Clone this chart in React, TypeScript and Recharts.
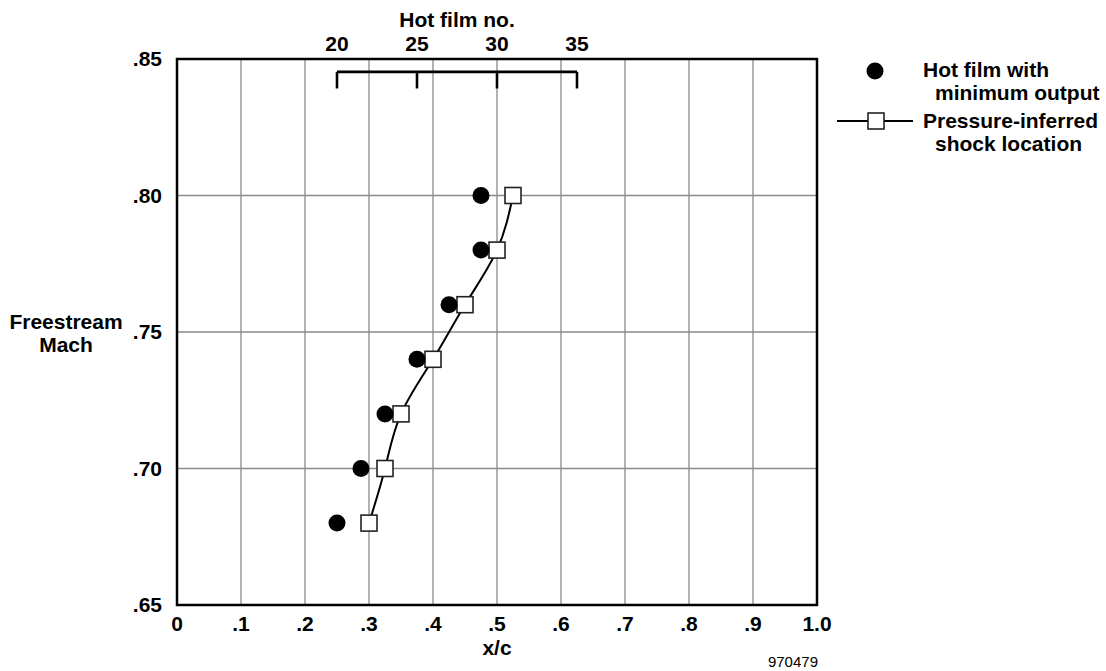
import React from 'react';
import {
  ComposedChart, XAxis, YAxis, CartesianGrid, Scatter, Line, ReferenceArea,
  ReferenceLine, ReferenceDot, Legend, Label,
} from 'recharts';

const machLevels = [0.68, 0.70, 0.72, 0.74, 0.76, 0.78, 0.80];
const hotFilmXc = [0.25, 0.2875, 0.325, 0.375, 0.425, 0.475, 0.475];
const pressureXc = [0.30, 0.325, 0.35, 0.40, 0.45, 0.50, 0.525];

const xTicks = [0, 0.1, 0.2, 0.3, 0.4, 0.5, 0.6, 0.7, 0.8, 0.9, 1.0];
const xTickLabels = ['0', '.1', '.2', '.3', '.4', '.5', '.6', '.7', '.8', '.9', '1.0'];
const yTicks = [0.65, 0.70, 0.75, 0.80, 0.85];
const yTickLabels = ['.65', '.70', '.75', '.80', '.85'];

const filmNumbers = ['20', '25', '30', '35'];
const filmTickXc = [0.25, 0.375, 0.5, 0.625];
const bracketTopMach = 0.8453;
const bracketTickBottomMach = 0.8392;

const hotFilmData = machLevels.map((y, i) => ({ x: hotFilmXc[i], y }));
const pressureData = machLevels.map((y, i) => ({ x: pressureXc[i], y }));

const FONT = '"Liberation Sans", Arial, Helvetica, sans-serif';
const FS = 21;
const tickStyle = { fill: '#000', fontSize: FS, fontWeight: 700, fontFamily: FONT };

const CircleShape = (p: any) => <circle cx={p.cx} cy={p.cy} r={8.5} fill="#000" />;
const SquareShape = (p: any) => (
  <rect x={p.cx - 8} y={p.cy - 8} width={16} height={16} fill="#fff" stroke="#222" strokeWidth={1.6} />
);

const LegendBox = () => (
  <svg width={286} height={130} style={{ overflow: 'visible' }}>
    <g fontFamily={FONT} fontWeight={700} fontSize={FS} fill="#000">
      <circle cx={55} cy={31} r={8.5} fill="#000" />
      <text x={103} y={37}>Hot film with</text>
      <text x={115} y={60}>minimum output</text>
      <line x1={17} x2={93} y1={81} y2={81} stroke="#000" strokeWidth={2} />
      <rect x={48} y={73} width={16} height={16} fill="#fff" stroke="#222" strokeWidth={1.6} />
      <text x={103} y={88}>Pressure-inferred</text>
      <text x={115} y={111}>shock location</text>
    </g>
  </svg>
);

const topText = (value: string, offset: number) => (props: any) => {
  const vb = props.viewBox;
  return (
    <text x={vb.x} y={vb.y - offset} textAnchor="middle" fontFamily={FONT} fontSize={FS} fontWeight={700} fill="#000">
      {value}
    </text>
  );
};

export default function App() {
  const bracketMid = (filmTickXc[0] + filmTickXc[filmTickXc.length - 1]) / 2;
  return (
    <div style={{ position: 'absolute', left: 0, top: 0, width: 1106, height: 671, background: '#fff' }}>
      <ComposedChart width={1106} height={671} margin={{ top: 59, right: 289, bottom: 0, left: 0 }}>
        <CartesianGrid stroke="#8a8a8a" strokeWidth={1.3} horizontalValues={yTicks} verticalValues={xTicks} />
        <XAxis
          dataKey="x"
          type="number"
          domain={[0, 1]}
          ticks={xTicks}
          tickFormatter={(v: number) => xTickLabels[xTicks.findIndex((t) => Math.abs(t - v) < 1e-6)]}
          axisLine={false}
          tickLine={false}
          tickSize={0}
          tickMargin={11}
          height={66}
          tick={tickStyle}
          interval={0}
        >
          <Label
            content={(props: any) => {
              const vb = props.viewBox;
              return (
                <g fontFamily={FONT} fill="#000">
                  <text x={vb.x + vb.width / 2} y={vb.y + 50} textAnchor="middle" fontSize={FS} fontWeight={700}>x/c</text>
                  <text x={vb.x + vb.width + 1} y={vb.y + 62} textAnchor="end" fontSize={15}>970479</text>
                </g>
              );
            }}
          />
        </XAxis>
        <YAxis
          dataKey="y"
          type="number"
          domain={[0.65, 0.85]}
          ticks={yTicks}
          tickFormatter={(v: number) => yTickLabels[yTicks.findIndex((t) => Math.abs(t - v) < 1e-6)]}
          axisLine={false}
          tickLine={false}
          tickSize={0}
          tickMargin={15}
          width={177}
          tick={tickStyle}
          interval={0}
        >
          <Label
            content={(props: any) => {
              const vb = props.viewBox;
              const cy = vb.y + vb.height / 2;
              return (
                <text x={66} y={cy - 3} textAnchor="middle" fontFamily={FONT} fontSize={FS} fontWeight={700} fill="#000">
                  <tspan x={66} y={cy - 3}>Freestream</tspan>
                  <tspan x={66} y={cy + 20}>Mach</tspan>
                </text>
              );
            }}
          />
        </YAxis>
        <ReferenceArea x1={0} x2={1} y1={0.65} y2={0.85} fill="none" fillOpacity={0} stroke="#000" strokeWidth={2.5} />
        <ReferenceLine
          segment={[
            { x: filmTickXc[0], y: bracketTopMach },
            { x: filmTickXc[filmTickXc.length - 1], y: bracketTopMach },
          ]}
          stroke="#000"
          strokeWidth={2.6}
        />
        {filmTickXc.map((fx) => (
          <ReferenceLine
            key={fx}
            segment={[
              { x: fx, y: bracketTopMach },
              { x: fx, y: bracketTickBottomMach },
            ]}
            stroke="#000"
            strokeWidth={2.6}
          />
        ))}
        {filmTickXc.map((fx, i) => (
          <ReferenceDot
            key={'f' + fx}
            x={fx}
            y={0.85}
            r={0}
            fill="none"
            stroke="none"
            label={{ content: topText(filmNumbers[i], 8) }}
          />
        ))}
        <ReferenceDot
          x={bracketMid}
          y={0.85}
          r={0}
          fill="none"
          stroke="none"
          label={{ content: topText('Hot film no.', 32) }}
        />
        <Scatter data={pressureData} shape={SquareShape} isAnimationActive={false} legendType="none" />
        <Line
          data={pressureData}
          dataKey="y"
          type="natural"
          stroke="#000"
          strokeWidth={2}
          dot={false}
          activeDot={false}
          isAnimationActive={false}
          legendType="none"
        />
        <Scatter data={hotFilmData} shape={CircleShape} isAnimationActive={false} legendType="none" />
        <Legend
          layout="vertical"
          align="center"
          verticalAlign="middle"
          wrapperStyle={{ position: 'absolute', left: 820, top: 40, width: 286, height: 130 }}
          content={() => <LegendBox />}
        />
      </ComposedChart>
    </div>
  );
}
